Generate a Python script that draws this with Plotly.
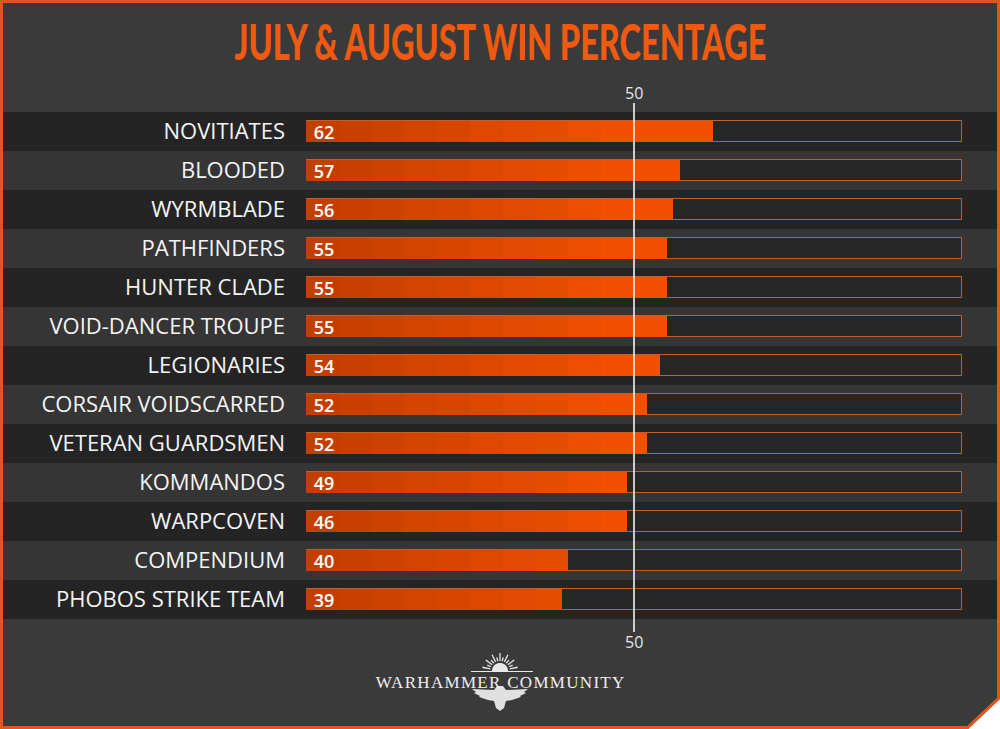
import math
import plotly.graph_objects as go

# ---------------- data ----------------
categories = ["NOVITIATES", "BLOODED", "WYRMBLADE", "PATHFINDERS", "HUNTER CLADE",
              "VOID-DANCER TROUPE", "LEGIONARIES", "CORSAIR VOIDSCARRED",
              "VETERAN GUARDSMEN", "KOMMANDOS", "WARPCOVEN", "COMPENDIUM",
              "PHOBOS STRIKE TEAM"]
# bar lengths as drawn in the picture
bar_values = [62, 57, 56, 55, 55, 55, 54, 52, 52, 49, 49, 40, 39]
# numbers printed on the bars
value_labels = ["62", "57", "56", "55", "55", "55", "54", "52", "52", "49", "46", "40", "39"]
track_max = [100] * len(categories)
reference_value = 50
title_text = "JULY & AUGUST WIN PERCENTAGE"
logo_text = "WARHAMMER COMMUNITY"

# ---------------- layout geometry (pixels) ----------------
W, H = 1000, 729
L, R, T, B = 306, 38, 112, 110
PW, PH = W - L - R, H - T - B


def px(x):
    return (x - L) / PW


def py(y):
    return (H - B - y) / PH


BG = "#3a3a3a"
DARK = "#242424"
MID = "#353535"
ORANGE = "#f05000"
TRACK = "#262626"
TRACK_LINE = "#c0602c"
LOGO = "#e8e8e8"

fig = go.Figure()

# background tracks
fig.add_trace(go.Bar(
    y=categories, x=track_max, orientation="h", width=0.56,
    marker=dict(color=TRACK, line=dict(color=TRACK_LINE, width=1)),
    hoverinfo="skip", showlegend=False))

# value bars
fig.add_trace(go.Bar(
    y=categories, x=bar_values, orientation="h", width=0.56,
    marker=dict(color=ORANGE, line=dict(width=0)),
    showlegend=False))

# subtle left-dark gradient via stacked translucent overlays
steps = 9
for k in range(1, steps + 1):
    fig.add_trace(go.Bar(
        y=categories, x=[min(v, 5 * k) for v in bar_values], orientation="h", width=0.56,
        marker=dict(color="rgba(0,0,0,0.02)", line=dict(width=0)),
        hoverinfo="skip", showlegend=False))

# value labels
fig.add_trace(go.Bar(
    y=categories, x=bar_values, orientation="h", width=0.56,
    marker=dict(color="rgba(0,0,0,0)", line=dict(width=0)),
    text=["\u00a0" + t for t in value_labels], textposition="inside",
    insidetextanchor="start", constraintext="none",
    textfont=dict(family="Open Sans", size=18, color="#ffffff", weight=600),
    hoverinfo="skip", showlegend=False))

shapes = []
# row stripes
n = len(categories)
for i in range(n):
    shapes.append(dict(type="rect", xref="paper", yref="paper",
                       x0=px(3), x1=px(997), y0=1 - (i + 1) / n, y1=1 - i / n,
                       fillcolor=DARK if i % 2 == 0 else MID, line=dict(width=0),
                       layer="below"))

# reference line at 50
shapes.append(dict(type="line", xref="x", yref="paper",
                   x0=reference_value, x1=reference_value, y0=py(632), y1=py(103),
                   line=dict(color="#ffffff", width=1.5), layer="above"))


def poly(points):
    return "M " + " L ".join(f"{px(x):.5f},{py(y):.5f}" for x, y in points) + " Z"


# logo: sun + rays + base line
cx, cy, r = 500, 671, 8
pts = []
for a in range(0, 181, 10):
    t = math.radians(a)
    pts.append((cx + r * math.cos(t), cy - r * math.sin(t)))
shapes.append(dict(type="path", xref="paper", yref="paper", path=poly(pts),
                   fillcolor=LOGO, line=dict(width=0)))
for j, a in enumerate(range(12, 180, 13)):
    t = math.radians(a)
    r1 = 10
    r2 = 18 if j % 2 == 0 else 14
    shapes.append(dict(type="line", xref="paper", yref="paper",
                       x0=px(cx + r1 * math.cos(t)), y0=py(cy - r1 * math.sin(t)),
                       x1=px(cx + r2 * math.cos(t)), y1=py(cy - r2 * math.sin(t)),
                       line=dict(color=LOGO, width=1.3)))
shapes.append(dict(type="line", xref="paper", yref="paper",
                   x0=px(471), x1=px(533), y0=py(671.5), y1=py(671.5),
                   line=dict(color=LOGO, width=1)))
# eagle
eagle = [(472, 689), (494, 690), (497, 686), (503, 686), (506, 690), (528, 689),
         (524, 692), (526, 693), (520, 696), (521, 697), (512, 700), (506, 701),
         (504, 708), (500, 711), (496, 708), (494, 701), (488, 700), (479, 697),
         (480, 696), (474, 693), (476, 692)]
shapes.append(dict(type="path", xref="paper", yref="paper", path=poly(eagle),
                   fillcolor="#e0e0e0", line=dict(width=0)))

# frame border
shapes.append(dict(type="rect", xref="paper", yref="paper",
                   x0=px(1.5), x1=px(998.5), y0=py(727.5), y1=py(1.5),
                   line=dict(color="#e2561c", width=3)))
# clipped corner
shapes.append(dict(type="path", xref="paper", yref="paper",
                   path=poly([(967, 730), (1001, 730), (1001, 698)]),
                   fillcolor="#ffffff", line=dict(width=0)))
shapes.append(dict(type="line", xref="paper", yref="paper",
                   x0=px(966), y0=py(729), x1=px(1000), y1=py(697),
                   line=dict(color="#e2561c", width=3)))

annotations = [
    dict(text=title_text, xref="paper", yref="paper", x=px(500), y=py(41),
         xanchor="center", yanchor="middle", showarrow=False,
         font=dict(family="Lato", size=50, color="#f05a10", weight=900)),
    dict(text=str(reference_value), xref="x", yref="paper", x=reference_value, y=py(93),
         xanchor="center", yanchor="middle", showarrow=False,
         font=dict(family="Open Sans", size=16, color="#e6e6e6")),
    dict(text=str(reference_value), xref="x", yref="paper", x=reference_value, y=py(642),
         xanchor="center", yanchor="middle", showarrow=False,
         font=dict(family="Open Sans", size=16, color="#e6e6e6")),
    dict(text=logo_text, xref="paper", yref="paper", x=px(500), y=py(682),
         xanchor="center", yanchor="middle", showarrow=False,
         font=dict(family="Liberation Serif", size=17, color="#f0f0f0")),
]

fig.update_layout(
    width=W, height=H,
    margin=dict(l=L, r=R, t=T, b=B, pad=0),
    paper_bgcolor=BG, plot_bgcolor="rgba(0,0,0,0)",
    barmode="overlay", bargap=0,
    shapes=shapes, annotations=annotations,
    showlegend=False,
    xaxis=dict(range=[0, 100], visible=False, fixedrange=True),
    yaxis=dict(type="category", categoryorder="array", categoryarray=categories,
               range=[n - 0.5, -0.5], showgrid=False, zeroline=False, showline=False,
               ticks="", ticklabelstandoff=20, fixedrange=True,
               tickfont=dict(family="Open Sans", size=22, color="#f4f4f4")),
)

# condense the title horizontally (the original uses a condensed display face)
# and letter-space the logo wordmark
post = """
(function(){
  function fix(){
    document.querySelectorAll('text.annotation-text').forEach(function(t){
      if (t.textContent === %s) {
        t.style.transform = '';
        var bb = t.getBBox();
        var s = 532 / bb.width;
        t.style.transformBox = 'fill-box';
        t.style.transformOrigin = 'center';
        t.style.transform = 'scaleX(' + s + ')';
      }
      if (t.textContent === %s) {
        t.style.letterSpacing = '1.3px';
      }
    });
  }
  fix();
  var gd = document.getElementById('{plot_id}');
  if (gd && gd.on) { gd.on('plotly_afterplot', fix); }
})();
""" % (repr(title_text), repr(logo_text))

fig.write_html("out.html", post_script=post)
